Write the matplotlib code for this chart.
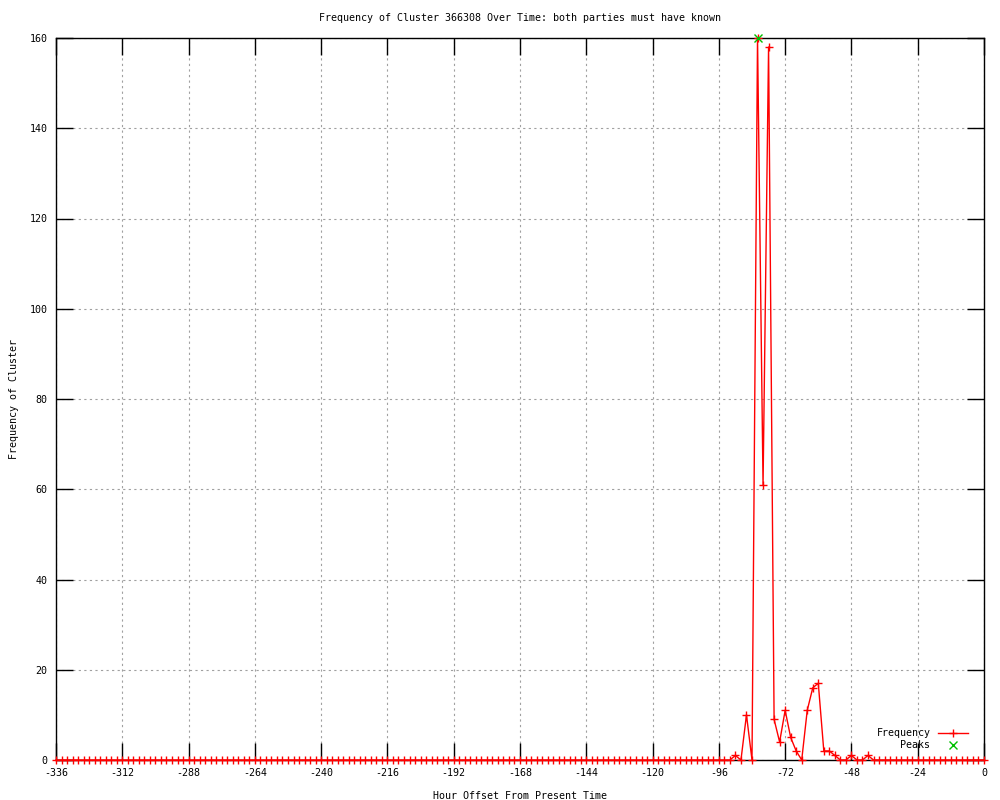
#!/usr/bin/env python3
"""Frequency of a cluster over time, gnuplot-style line chart."""

import matplotlib

matplotlib.use("Agg")
import matplotlib.pyplot as plt
from matplotlib.ticker import MultipleLocator

plt.rcParams["font.family"] = ["DejaVu Sans Mono"]
plt.rcParams["axes.unicode_minus"] = False

# hour offsets every 2 hours, -336 .. 0
hours = list(range(-336, 1, 2))

# non-zero readings, everything else is 0
nonzero = {
    -90: 1, -86: 10, -82: 160, -80: 61, -78: 158, -76: 9, -74: 4,
    -72: 11, -70: 5, -68: 2, -64: 11, -62: 16, -60: 17, -58: 2,
    -56: 2, -54: 1, -48: 1, -42: 1,
}
freq = [nonzero.get(h, 0) for h in hours]

peak_hours = [-82]
peak_values = [160]

title = "Frequency of Cluster 366308 Over Time: both parties must have known"
FS = 7.2

fig = plt.figure(figsize=(10, 8), dpi=100)
ax = fig.add_axes([0.056, 0.05, 0.928, 0.9025])

ax.plot(hours, freq, color="#ff0000", linewidth=1.0, marker="+", markersize=6,
        markeredgewidth=1.0, label="Frequency", clip_on=False, zorder=3)
ax.plot(peak_hours, peak_values, linestyle="none", color="#00c000", marker="x",
        markersize=5.5, markeredgewidth=1.0, label="Peaks", clip_on=False, zorder=4)

ax.set_xlim(-336, 0)
ax.set_ylim(0, 160)
ax.xaxis.set_major_locator(MultipleLocator(24))
ax.yaxis.set_major_locator(MultipleLocator(20))
ax.grid(True, color="#a0a0a0", linestyle=(0, (2, 3)), linewidth=0.8)
ax.tick_params(direction="in", length=12, width=1.0, top=True, right=True,
               labelsize=FS)
ax.tick_params(axis="x", pad=6)
ax.tick_params(axis="y", pad=6)
for s in ax.spines.values():
    s.set_linewidth(1.0)

ax.set_title(title, fontsize=FS, pad=12)
ax.set_xlabel("Hour Offset From Present Time", fontsize=FS, labelpad=9)
ax.set_ylabel("Frequency of Cluster", fontsize=FS, labelpad=8)

leg = ax.legend(loc="lower right", bbox_to_anchor=(0.994, 0.0), fontsize=FS,
                frameon=False, markerfirst=False, handlelength=3.0,
                borderaxespad=0.6, labelspacing=0.2, handletextpad=0.8)

fig.savefig("out.png", dpi=100)
